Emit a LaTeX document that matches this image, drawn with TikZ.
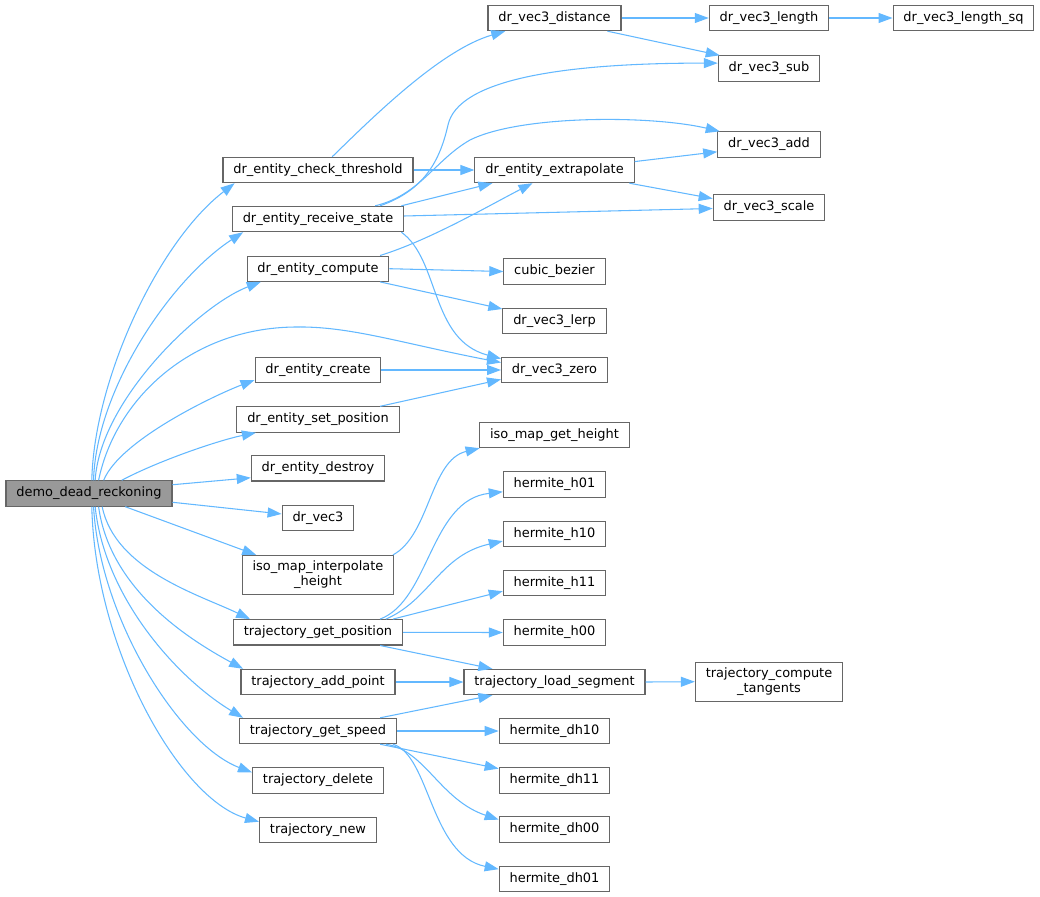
\documentclass[tikz,border=0pt]{standalone}
\usepackage{fontspec}
\setmainfont{DejaVu Sans}
\usetikzlibrary{arrows.meta}
\definecolor{edgeblue}{HTML}{63B8FF}
\definecolor{boxborder}{HTML}{666666}
\definecolor{rootfill}{HTML}{999999}

\begin{document}
\begin{tikzpicture}[
         x=0.75pt, y=-0.75pt,
         func/.style={draw=boxborder, fill=white, line width=0.8pt, minimum height=19pt,
            inner xsep=7.8pt, inner ysep=1pt, font=\fontsize{9.7}{11.25}\selectfont},
         root/.style={func, fill=rootfill},
         twoline/.style={func, align=center, minimum height=29.3pt},
         call/.style={draw=edgeblue, line width=0.8pt, -{Triangle[length=10.5pt,width=7.5pt]}}
      ]
         \useasboundingbox (0,0) rectangle (1040,897);

         % Nodes for functions
         \node[root] (demo) at (89,493.5) {demo\_dead\_reckoning};

         \node[func] (chk) at (318,170) {dr\_entity\_check\_threshold};
         \node[func] (recv) at (318,219) {dr\_entity\_receive\_state};
         \node[func] (comp) at (318,268.7) {dr\_entity\_compute};
         \node[func] (create) at (318,370) {dr\_entity\_create};
         \node[func] (setpos) at (318,419.5) {dr\_entity\_set\_position};
         \node[func] (destroy) at (318,468.3) {dr\_entity\_destroy};
         \node[func] (vecthree) at (318,517.8) {dr\_vec3};
         \node[twoline] (interp) at (318,575) {iso\_map\_interpolate\\\_height};
         \node[func] (getpos) at (318,632.3) {trajectory\_get\_position};
         \node[func] (addpt) at (318,682) {trajectory\_add\_point};
         \node[func] (getspeed) at (318,731) {trajectory\_get\_speed};
         \node[func] (tdel) at (318,780.5) {trajectory\_delete};
         \node[func] (tnew) at (318,830) {trajectory\_new};

         \node[func] (dist) at (554.5,18) {dr\_vec3\_distance};
         \node[func] (extrap) at (554.5,170) {dr\_entity\_extrapolate};
         \node[func] (cubic) at (554.5,271.5) {cubic\_bezier};
         \node[func] (lerp) at (554.5,321) {dr\_vec3\_lerp};
         \node[func] (zero) at (554.5,370) {dr\_vec3\_zero};
         \node[func] (isoh) at (554.5,435) {iso\_map\_get\_height};
         \node[func] (h01) at (554.5,484.5) {hermite\_h01};
         \node[func] (h10) at (554.5,533.8) {hermite\_h10};
         \node[func] (h11) at (554.5,583) {hermite\_h11};
         \node[func] (h00) at (554.5,632.5) {hermite\_h00};
         \node[func] (loadseg) at (554.5,682) {trajectory\_load\_segment};
         \node[func] (dh10) at (554.5,731) {hermite\_dh10};
         \node[func] (dh11) at (554.5,780.5) {hermite\_dh11};
         \node[func] (dh00) at (554.5,829.5) {hermite\_dh00};
         \node[func] (dh01) at (554.5,879) {hermite\_dh01};

         \node[func] (vlen) at (769,18) {dr\_vec3\_length};
         \node[func] (vsub) at (769,68.5) {dr\_vec3\_sub};
         \node[func] (vadd) at (769,144.5) {dr\_vec3\_add};
         \node[func] (vscale) at (769,207.5) {dr\_vec3\_scale};
         \node[twoline] (tangents) at (769,681.7) {trajectory\_compute\\\_tangents};

         \node[func] (lensq) at (963.5,18) {dr\_vec3\_length\_sq};

         % Calls from demo_dead_reckoning
         \draw[call] (demo.78) .. controls (94,380) and (158,242) .. (chk.189);
         \draw[call] (demo.71) .. controls (96,390) and (170,280) .. (recv.190);
         \draw[call] (demo.65) .. controls (100,400) and (200,305) .. (comp.193);
         \draw[call] (demo.54) .. controls (115,400) and (190,328) .. (295,327)
            .. controls (350,326) and (400,343) .. (zero.172);
         \draw[call] (demo.42) .. controls (120,440) and (215,395) .. (create.189);
         \draw[call] (demo.22) .. controls (160,460) and (220,440) .. (setpos.192);
         \draw[call] (demo.6) -- (destroy.188);
         \draw[call] (demo.-6) -- (vecthree.174);
         \draw[call] (demo.-20) -- (interp.162);
         \draw[call] (demo.-45) .. controls (115,570) and (200,595) .. (getpos.169);
         \draw[call] (demo.-54) .. controls (110,590) and (190,640) .. (addpt.170);
         \draw[call] (demo.-65) .. controls (105,600) and (180,680) .. (getspeed.170);
         \draw[call] (demo.-71) .. controls (100,620) and (180,745) .. (tdel.173);
         \draw[call] (demo.-78) .. controls (95,650) and (180,800) .. (tnew.172);

         % Calls from the entity functions
         \draw[call] (chk.43) .. controls (370,120) and (440,50) .. (dist.195);
         \draw[call] (chk.east) -- (extrap.west);
         \draw[call] (recv.12) .. controls (425,190) and (440,160) .. (448,125)
            .. controls (458,80) and (560,63) .. (vsub.174);
         \draw[call] (recv.13) .. controls (420,195) and (435,160) .. (470,140)
            .. controls (520,115) and (650,115) .. (vadd.165);
         \draw[call] (recv.9) -- (extrap.192);
         \draw[call] (recv.2) -- (vscale.181);
         \draw[call] (recv.-9) .. controls (440,260) and (430,340) .. (zero.168);
         \draw[call] (comp.12) .. controls (430,240) and (490,205) .. (extrap.211);
         \draw[call] (comp.east) -- (cubic.west);
         \draw[call] (comp.-12) -- (lerp.167);
         \draw[call] (create.east) -- (zero.west);
         \draw[call] (setpos.12) -- (zero.190);

         % Calls between vector functions
         \draw[call] (dist.east) -- (vlen.west);
         \draw[call] (dist.-14) -- (vsub.165);
         \draw[call] (vlen.east) -- (lensq.west);
         \draw[call] (extrap.6) -- (vadd.188);
         \draw[call] (extrap.-10) -- (vscale.171);
         \draw[call] (interp.15) .. controls (430,535) and (430,460) .. (isoh.190);

         % Calls from the trajectory functions
         \draw[call] (getpos.12) .. controls (430,600) and (430,500) .. (h01.188);
         \draw[call] (getpos.11) .. controls (430,600) and (440,555) .. (h10.188);
         \draw[call] (getpos.10) -- (h11.189);
         \draw[call] (getpos.east) -- (h00.west);
         \draw[call] (getpos.-12) -- (loadseg.168);
         \draw[call] (addpt.east) -- (loadseg.west);
         \draw[call] (getspeed.12) -- (loadseg.192);
         \draw[call] (getspeed.east) -- (dh10.west);
         \draw[call] (getspeed.-12) -- (dh11.168);
         \draw[call] (getspeed.-11) .. controls (425,750) and (440,800) .. (dh00.170);
         \draw[call] (getspeed.-10) .. controls (430,755) and (430,855) .. (dh01.170);
         \draw[call] (loadseg.east) -- (tangents.west);

      \end{tikzpicture}
\end{document}
